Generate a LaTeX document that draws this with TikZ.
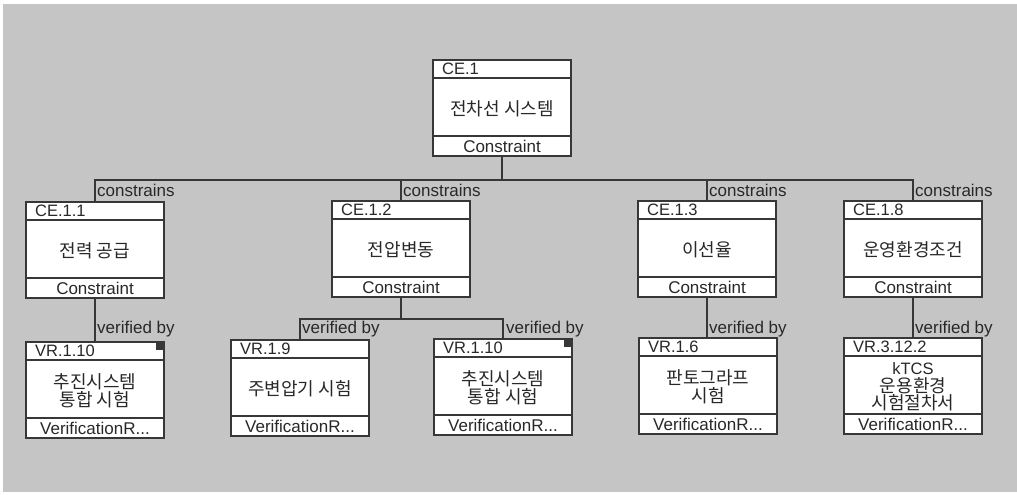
\documentclass[tikz,border=0pt]{standalone}
\usepackage{fontspec}
\setmainfont{Liberation Sans}
\newfontfamily\kr{Noto Sans CJK KR}
\definecolor{bg}{RGB}{197,197,197}
\definecolor{ln}{RGB}{55,55,55}
\definecolor{tx}{RGB}{40,40,40}
\tikzset{
  umlbox/.style={draw=ln, fill=white, line width=1.1pt, minimum width=138pt, minimum height=96pt, anchor=north west, inner sep=0pt, outer sep=0pt},
  sepline/.style={draw=ln, line width=1.1pt},
  conn/.style={draw=ln, line width=1.1pt},
  idlbl/.style={anchor=west, inner sep=0pt, text=tx, font=\fontsize{16.5pt}{16.5pt}\selectfont},
  bodytxt/.style={align=center, inner sep=0pt, text=tx, font=\kr\fontsize{18pt}{17.5pt}\selectfont},
  foottxt/.style={inner sep=0pt, text=tx, font=\fontsize{17pt}{17pt}\selectfont},
  rel/.style={anchor=west, inner sep=0pt, text=tx, font=\fontsize{17pt}{17pt}\selectfont},
  cornersq/.style={fill=ln, minimum size=8pt, anchor=north east, inner sep=0pt, outer sep=0pt}
}
\newcommand\umlnode[6]{%
  \node[umlbox] (#1) at (#2,#3) {};
  \draw[sepline] ([yshift=-18pt]#1.north west) -- ([yshift=-18pt]#1.north east);
  \draw[sepline] ([yshift=20pt]#1.south west) -- ([yshift=20pt]#1.south east);
  \node[idlbl] (#1-id) at ([xshift=9pt,yshift=-9pt]#1.north west) {#4};
  \node[bodytxt] (#1-body) at ([yshift=-1pt]#1.center) {#5};
  \node[foottxt] (#1-foot) at ([yshift=10pt]#1.south) {#6};
}
\begin{document}
\begin{tikzpicture}[x=1pt,y=-1pt]
  \useasboundingbox (0,0) rectangle (1017,495);
  \fill[white] (0,0) rectangle (1017,495);
  \fill[bg] (3,4) rectangle (1017,492);

  % top element
  \umlnode{ce1}{433}{60}{CE.1}{전차선 시스템}{Constraint}
  % constraint row
  \umlnode{ce11}{26}{202}{CE.1.1}{전력 공급}{Constraint}
  \umlnode{ce12}{332}{201}{CE.1.2}{전압변동}{Constraint}
  \umlnode{ce13}{638}{201}{CE.1.3}{이선율}{Constraint}
  \umlnode{ce18}{844}{201}{CE.1.8}{운영환경조건}{Constraint}
  % verification row
  \umlnode{vr110}{26}{342}{VR.1.10}{추진시스템\\통합 시험}{VerificationR...}
  \umlnode{vr19}{231}{340}{VR.1.9}{주변압기 시험}{VerificationR...}
  \umlnode{vr110b}{434}{339}{VR.1.10}{추진시스템\\통합 시험}{VerificationR...}
  \umlnode{vr16}{639}{338}{VR.1.6}{판토그라프\\시험}{VerificationR...}
  \umlnode{vr3122}{844}{338}{VR.3.12.2}{\fontsize{16.5pt}{17pt}\selectfont{\fontspec{Liberation Sans}kTCS}\\운용환경\\시험절차서}{VerificationR...}

  \node[cornersq] (sqa) at (vr110.north east) {};
  \node[cornersq] (sqb) at (vr110b.north east) {};

  % constrains tree
  \coordinate (barA) at (0,180);
  \coordinate (labA) at (0,190);
  \draw[conn] (ce1.south) -- (ce1.south |- barA);
  \draw[conn] (ce11.north) -- (ce11.north |- barA) -- (ce18.north |- barA) -- (ce18.north);
  \draw[conn] (ce12.north) -- (ce12.north |- barA);
  \draw[conn] (ce13.north) -- (ce13.north |- barA);
  \node[rel, xshift=2pt] (c1) at (ce11.north |- labA) {constrains};
  \node[rel, xshift=2pt] (c2) at (ce12.north |- labA) {constrains};
  \node[rel, xshift=2pt] (c3) at (ce13.north |- labA) {constrains};
  \node[rel, xshift=2pt] (c4) at (ce18.north |- labA) {constrains};

  % verified by
  \coordinate (barB) at (0,319);
  \coordinate (labB) at (0,329);
  \draw[conn] (ce11.south) -- (vr110.north);
  \draw[conn] (ce12.south) -- (ce12.south |- barB);
  \draw[conn] (vr19.north) -- (vr19.north |- barB) -- (vr110b.north |- barB) -- (vr110b.north);
  \draw[conn] (ce13.south) -- (ce13.south |- vr16.north);
  \draw[conn] (ce18.south) -- (ce18.south |- vr3122.north);
  \node[rel, xshift=2pt] (v1) at (ce11.south |- labB) {verified by};
  \node[rel, xshift=2pt] (v2) at (vr19.north |- labB) {verified by};
  \node[rel, xshift=3pt] (v3) at (vr110b.north |- labB) {verified by};
  \node[rel, xshift=2pt] (v4) at (ce13.south |- labB) {verified by};
  \node[rel, xshift=2pt] (v5) at (ce18.south |- labB) {verified by};
\end{tikzpicture}
\end{document}
